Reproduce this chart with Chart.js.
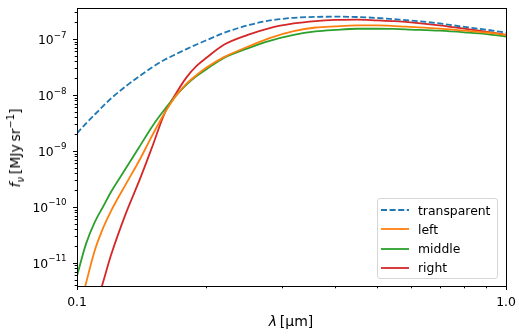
<!DOCTYPE html>
<html>
<head>
<meta charset="utf-8">
<script src="https://cdn.jsdelivr.net/npm/chart.js@4/dist/chart.umd.min.js"></script>
<style>
  body { margin: 0; background: #fff; }
  #wrap { position: relative; width: 519px; height: 336px; font-family: "DejaVu Sans", sans-serif; color: #000; }
  #chart { position: absolute; left: 0; top: 0; }
  .axis-title { position: absolute; white-space: nowrap; font-size: 14px; line-height: 1; }
  .axis-title sub, .axis-title sup { font-size: 70%; line-height: 0; }
  #ylabel { left: 15px; top: 148px; transform: translate(-50%, -50%) rotate(-90deg); }
  #xlabel { left: 291px; top: 321px; transform: translate(-50%, -50%); }
  #legend { position: absolute; left: 377px; top: 198px; width: 119px; height: 79px;
            border: 1px solid #d6d6d6; border-radius: 3px; background: rgba(255,255,255,0.8);
            font-size: 12.4px; }
  .row { position: absolute; left: 0; height: 16px; display: flex; align-items: center; }
  .row svg { margin-left: 3px; margin-right: 9px; }
</style>
</head>
<body>
<div id="wrap">
  <canvas id="chart" width="519" height="336"></canvas>
  <div id="ylabel" class="axis-title"><i>f</i><sub><i>ν</i></sub>&#8201;[MJy&#8201;sr<sup>−1</sup>]</div>
  <div id="xlabel" class="axis-title"><i>λ</i>&#8201;[μm]</div>
  <div id="legend"></div>
</div>
<script>
// longitudes de onda (µm) y flujos
const wavelengths = [0.10, 0.105, 0.11, 0.115, 0.12, 0.13, 0.14, 0.15, 0.16, 0.17, 0.18, 0.19, 0.20,
                     0.22, 0.25, 0.28, 0.32, 0.36, 0.40, 0.45, 0.50, 0.55, 0.60, 0.70, 0.80, 0.90, 1.00];
const transparent = [2.07e-9, 3.12e-9, 4.49e-9, 6.31e-9, 8.67e-9, 1.44e-8, 2.19e-8, 3.16e-8, 4.27e-8,
                     5.37e-8, 6.62e-8, 8.0e-8, 9.48e-8, 1.29e-7, 1.76e-7, 2.13e-7, 2.40e-7, 2.49e-7,
                     2.51e-7, 2.48e-7, 2.38e-7, 2.26e-7, 2.15e-7, 1.90e-7, 1.65e-7, 1.47e-7, 1.30e-7];
const left = [1.0e-12, 4.4e-12, 1.67e-11, 4.18e-11, 8.43e-11, 2.56e-10, 6.98e-10, 1.94e-9, 4.78e-9,
              9.66e-9, 1.60e-8, 2.28e-8, 3.06e-8, 4.76e-8, 7.28e-8, 1.03e-7, 1.38e-7, 1.61e-7,
              1.69e-7, 1.75e-7, 1.75e-7, 1.71e-7, 1.65e-7, 1.54e-7, 1.41e-7, 1.31e-7, 1.19e-7];
const middle = [5.9e-12, 2.21e-11, 5.36e-11, 1.01e-10, 1.85e-10, 4.9e-10, 1.21e-9, 2.81e-9, 5.51e-9,
                9.73e-9, 1.54e-8, 2.18e-8, 2.87e-8, 4.62e-8, 6.84e-8, 9.21e-8, 1.19e-7, 1.37e-7,
                1.46e-7, 1.53e-7, 1.53e-7, 1.52e-7, 1.48e-7, 1.41e-7, 1.32e-7, 1.23e-7, 1.11e-7];
const right = [null, null, 1.39e-12, 4.5e-12, 1.37e-11, 7.7e-11, 3.07e-10, 1.23e-9, 4.71e-9,
               1.06e-8, 2.07e-8, 3.31e-8, 4.59e-8, 7.91e-8, 1.19e-7, 1.56e-7, 1.90e-7, 2.10e-7,
               2.20e-7, 2.23e-7, 2.16e-7, 2.09e-7, 1.99e-7, 1.76e-7, 1.53e-7, 1.36e-7, 1.19e-7];

const seriesNames = ['transparent', 'left', 'middle', 'right'];
const seriesValues = [transparent, left, middle, right];
const xTickValues = [0.1, 1.0];
const xTickLabels = ['0.1', '1.0'];
const yTickExponents = [-11, -10, -9, -8, -7];
const xRange = [0.1, 1.0];
const yRange = [3.87e-12, 3.59e-7];

// colores tab10 de matplotlib
const colors = ['#1f77b4', '#ff7f0e', '#2ca02c', '#d62728'];
const dashes = [[6, 2.6], [], [], []];

const datasets = seriesNames.map((name, k) => ({
    label: name,
    data: wavelengths.map((w, i) => ({ x: w, y: seriesValues[k][i] })),
    borderColor: colors[k],
    backgroundColor: colors[k],
    borderWidth: 1.8,
    borderDash: dashes[k],
    pointRadius: 0,
    cubicInterpolationMode: 'monotone',
    fill: false
}));

// marco, marcas y etiquetas al estilo matplotlib
const axesPlugin = {
    id: 'axesPlugin',
    afterDraw(chart) {
        const { ctx, chartArea: a, scales } = chart;
        const xs = scales.x, ys = scales.y;
        ctx.save();
        ctx.strokeStyle = '#000';
        ctx.fillStyle = '#000';
        ctx.lineWidth = 1;
        ctx.strokeRect(Math.round(a.left) + 0.5, Math.round(a.top) + 0.5,
                       Math.round(a.right - a.left), Math.round(a.bottom - a.top));

        // eje x
        for (let e = -1; e <= 0; e++) {
            for (let m = 1; m <= 9; m++) {
                const v = m * Math.pow(10, e);
                if (v < xRange[0] - 1e-9 || v > xRange[1] + 1e-9) continue;
                const px = Math.round(xs.getPixelForValue(v)) + 0.5;
                const len = m === 1 ? 4 : 2.3;
                ctx.beginPath();
                ctx.moveTo(px, a.bottom);
                ctx.lineTo(px, a.bottom + len);
                ctx.stroke();
            }
        }
        ctx.font = '12.4px "DejaVu Sans"';
        ctx.textAlign = 'center';
        ctx.textBaseline = 'alphabetic';
        xTickValues.forEach((v, i) => {
            ctx.fillText(xTickLabels[i], xs.getPixelForValue(v), a.bottom + 19.5);
        });

        // eje y
        for (let e = -12; e <= -7; e++) {
            for (let m = 1; m <= 9; m++) {
                const v = m * Math.pow(10, e);
                if (v < yRange[0] || v > yRange[1]) continue;
                const py = Math.round(ys.getPixelForValue(v)) + 0.5;
                const len = m === 1 ? 4 : 2.3;
                ctx.beginPath();
                ctx.moveTo(a.left, py);
                ctx.lineTo(a.left - len, py);
                ctx.stroke();
            }
        }
        ctx.textAlign = 'left';
        for (let e of yTickExponents) {
            const py = ys.getPixelForValue(Math.pow(10, e));
            const expText = '−' + Math.abs(e);
            ctx.font = '8.7px "DejaVu Sans"';
            const wExp = ctx.measureText(expText).width;
            ctx.font = '12.4px "DejaVu Sans"';
            const wBase = ctx.measureText('10').width;
            const xEnd = a.left - 10.5;
            ctx.fillText('10', xEnd - wExp - wBase, py + 5);
            ctx.font = '8.7px "DejaVu Sans"';
            ctx.fillText(expText, xEnd - wExp, py - 1.5);
        }
        ctx.restore();
    }
};

new Chart(document.getElementById('chart'), {
    type: 'line',
    data: { datasets },
    options: {
        responsive: false,
        animation: false,
        devicePixelRatio: 1,
        layout: { padding: { left: 77, top: 8, right: 13, bottom: 50 } },
        plugins: { legend: { display: false }, tooltip: { enabled: false } },
        scales: {
            x: { type: 'logarithmic', min: xRange[0], max: xRange[1], display: false },
            y: { type: 'logarithmic', min: yRange[0], max: yRange[1], display: false }
        }
    },
    plugins: [axesPlugin]
});

// leyenda
const legend = document.getElementById('legend');
seriesNames.forEach((name, k) => {
    const row = document.createElement('div');
    row.className = 'row';
    row.style.top = (3 + k * 19.3) + 'px';
    const dash = dashes[k].length ? `stroke-dasharray="${dashes[k].join(',')}"` : '';
    row.innerHTML = `<svg width="28" height="4"><line x1="0" y1="2" x2="28" y2="2" stroke="${colors[k]}" stroke-width="1.8" ${dash}/></svg><span>${name}</span>`;
    legend.appendChild(row);
});
</script>
</body>
</html>
